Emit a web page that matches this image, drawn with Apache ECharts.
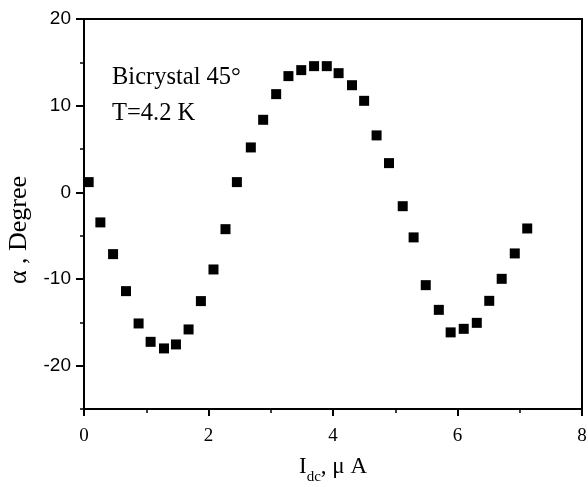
<!DOCTYPE html>
<html>
<head>
<meta charset="utf-8">
<script src="https://cdn.jsdelivr.net/npm/echarts@6/dist/echarts.min.js"></script>
<style>html,body{margin:0;padding:0;background:#fff;}#c{width:588px;height:487px;}</style>
</head>
<body>
<div id="c"></div>
<script>
const currentIdc = [0.075,0.263,0.467,0.675,0.877,1.07,1.285,1.477,1.68,1.878,2.08,2.273,2.456,2.68,2.878,3.087,3.284,3.49,3.696,3.90,4.09,4.305,4.50,4.70,4.90,5.12,5.295,5.49,5.70,5.89,6.10,6.31,6.51,6.71,6.92,7.12];
const alphaDeg = [1.18,-3.47,-7.13,-11.40,-15.13,-17.25,-18.01,-17.55,-15.82,-12.55,-8.90,-4.25,1.18,5.18,8.37,11.33,13.41,14.10,14.56,14.56,13.75,12.36,10.56,6.57,3.37,-1.6,-5.20,-10.71,-13.56,-16.16,-15.75,-15.06,-12.52,-9.98,-7.05,-4.17];
const yMajorTicks = [-20,-10,0,10,20];
const annotation = ['Bicrystal 45°', 'T=4.2 K'];

const points = currentIdc.map((x,i)=>[x, alphaDeg[i]]);
const chart = echarts.init(document.getElementById('c'), null, {renderer:'canvas'});
const serif = '"Liberation Serif", "Times New Roman", serif';
const sans = '"Liberation Sans", Arial, sans-serif';
chart.setOption({
  animation:false,
  backgroundColor:'#fff',
  grid:{left:84,right:6,top:19,bottom:78,containLabel:false,outerBoundsMode:'none',show:true,borderColor:'#000',borderWidth:2,backgroundColor:'transparent'},
  xAxis:{
    type:'value',min:0,max:8,interval:2,
    axisLine:{show:true,onZero:false,lineStyle:{color:'#000',width:2}},
    axisTick:{show:true,inside:false,length:7,lineStyle:{color:'#000',width:2}},
    minorTick:{show:true,splitNumber:2,length:4,lineStyle:{color:'#000',width:1.5}},
    splitLine:{show:false},
    axisLabel:{color:'#000',fontFamily:serif,fontSize:19,margin:18},
    name:'{a|I}{s|dc}{a|, \u03bc A}',
    nameLocation:'middle',nameGap:46,
    nameTextStyle:{rich:{a:{fontFamily:serif,fontSize:23,color:'#000'},s:{fontFamily:serif,fontSize:15,color:'#000',verticalAlign:'bottom',padding:[0,0,-7,0]}}}
  },
  yAxis:[{
    type:'value',min:-25,max:20,interval:5,
    axisLine:{show:true,onZero:false,lineStyle:{color:'#000',width:2}},
    axisTick:{show:true,length:4,lineStyle:{color:'#000',width:1.5}},
    splitLine:{show:false},
    axisLabel:{color:'#000',fontFamily:sans,fontSize:19,margin:13,formatter:v=>(yMajorTicks.indexOf(v)>=0?String(v):'')},
    name:'\u03b1 , Degree',nameLocation:'middle',nameGap:42,nameRotate:90,
    nameTextStyle:{fontFamily:serif,fontSize:26,color:'#000',padding:[0,32,0,0]}
  },{
    type:'value',min:-25,max:20,position:'left',
    axisLine:{show:false},
    axisTick:{show:true,length:8,customValues:yMajorTicks,lineStyle:{color:'#000',width:2}},
    axisLabel:{show:false},splitLine:{show:false}
  }],
  graphic:[
    {type:'text',left:112,top:65,style:{text:annotation[0],font:'24.5px '+serif,fill:'#000'}},
    {type:'text',left:112,top:101,style:{text:annotation[1],font:'24.5px '+serif,fill:'#000'}}
  ],
  series:[{
    type:'scatter',data:points,symbol:'rect',symbolSize:10,
    itemStyle:{color:'#000',opacity:1}
  }]
});
</script>
</body>
</html>
